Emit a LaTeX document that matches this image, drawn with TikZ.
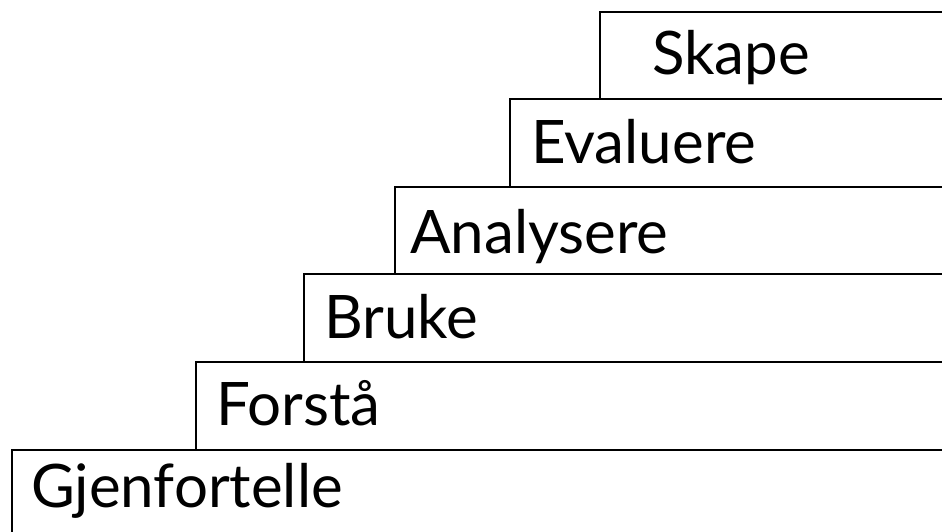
\documentclass[tikz,border=0pt]{standalone}
\usepackage{fontspec}
\setmainfont{Lato}
\begin{document}
\begin{tikzpicture}[x=1pt,y=-1pt,
  stair/.style={draw=black,line width=2.8pt},
  steplabel/.style={anchor=base west,inner sep=0pt,font=\fontsize{60}{60}\selectfont}]
\useasboundingbox (0,0) rectangle (942,532);
\clip (0,0) rectangle (942,532);
% steps, top to bottom: left edge and top edge of each box
\draw[stair] (600,12)  rectangle (960,99);
\draw[stair] (510,99)  rectangle (960,187);
\draw[stair] (395,187) rectangle (960,274);
\draw[stair] (304,274) rectangle (960,362);
\draw[stair] (196,362) rectangle (960,450);
\draw[stair] (12,450)  rectangle (960,560);
% labels
\node[steplabel] (skape) at (652,75)  {Skape};
\node[steplabel] (eval)  at (531,163) {Evaluere};
\node[steplabel] (anal)  at (410,253) {Analysere};
\node[steplabel] (bruke) at (324,338) {Bruke};
\node[steplabel] (forst) at (216,425) {Forstå};
\node[steplabel] (gjen)  at (31,507)  {Gjenfortelle};
\end{tikzpicture}
\end{document}
